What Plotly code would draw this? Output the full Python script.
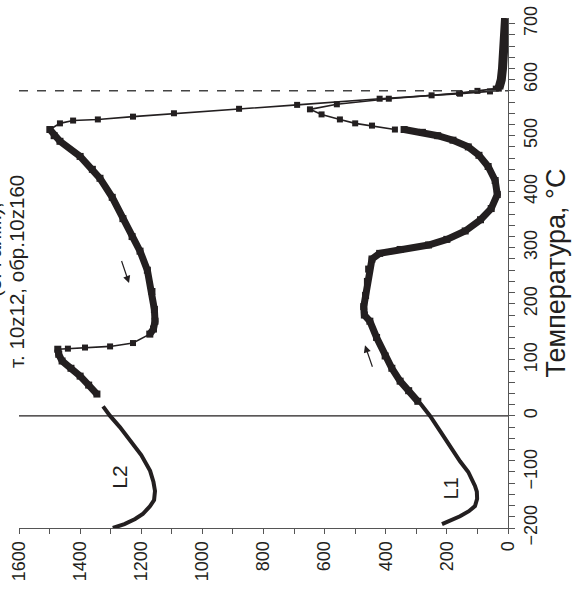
import plotly.graph_objects as go

# ---------------- data (value, temperature) ----------------
# L1 (heating) : low-temperature part
L1_low_T = [-193, -186, -179, -170, -161, -148, -135, -125, -100, -81, -55, -27, 0, 23]
L1_low_v = [216, 185, 157, 128, 108, 101, 102, 108, 130, 157, 190, 222, 255, 288]
# L1 dense part
L1_mid_T = [26, 45, 62, 85, 107, 140, 169, 180, 195, 215, 240, 262, 280, 290, 297, 305, 315, 330, 350, 370, 395, 420, 445, 465, 480, 492, 500, 506, 511]
L1_mid_v = [295, 325, 353, 380, 402, 430, 452, 470, 472, 466, 460, 456, 445, 420, 353, 260, 200, 140, 90, 55, 35, 42, 65, 95, 130, 180, 230, 280, 340]
# L1 sparse part (around the Hopkinson peak and drop)
L1_hi_T = [511, 518, 522, 529, 538, 547, 556, 566, 572, 576, 580, 584]
L1_hi_v = [370, 445, 500, 550, 610, 648, 560, 390, 250, 160, 100, 40]
# hot blob
HOT_T = [584, 590, 600, 620, 640, 660, 680, 700, 710]
HOT_v = [30, 25, 22, 18, 15, 12, 10, 8, 8]
# L2 (cooling) sparse drop
L2_hi_T = [584, 579, 575, 566, 555, 548, 540, 534, 529, 527, 522, 511]
L2_hi_v = [30, 59, 157, 420, 690, 880, 1093, 1227, 1342, 1423, 1466, 1499]
# L2 dense part
L2_mid_T = [511, 500, 490, 463, 440, 424, 390, 352, 320, 294, 260, 222, 190, 169, 155, 146]
L2_mid_v = [1499, 1485, 1466, 1400, 1360, 1335, 1295, 1260, 1230, 1204, 1180, 1165, 1157, 1155, 1160, 1172]
# L2 sparse jump
L2_jump_T = [146, 130, 124, 122, 120, 119]
L2_jump_v = [1172, 1227, 1302, 1384, 1440, 1473]
# L2 dense second part
L2_low1_T = [119, 110, 98, 85, 71, 55, 39]
L2_low1_v = [1473, 1470, 1459, 1430, 1400, 1372, 1345]
# L2 low temperature
L2_low_T = [17, 0, -20, -45, -70, -98, -118, -134, -150, -161, -175, -184, -193, -200]
L2_low_v = [1325, 1302, 1270, 1237, 1200, 1171, 1160, 1155, 1158, 1171, 1195, 1220, 1255, 1293]

CURIE = 580

INK = "#231f20"
FONT = "Liberation Sans, Arial, sans-serif"

fig = go.Figure()


def add(v, t, width, mode="lines", msize=0):
    fig.add_trace(go.Scatter(
        x=v, y=t, mode=mode,
        line=dict(color=INK, width=width),
        marker=dict(symbol="square", size=msize, color=INK),
        showlegend=False, hoverinfo="skip"))


add(L1_low_v, L1_low_T, 4)
add(L1_mid_v, L1_mid_T, 7, "lines+markers", 7)
add(L1_hi_v, L1_hi_T, 1.6, "lines+markers", 6)
add(HOT_v, HOT_T, 9)
add(L2_hi_v, L2_hi_T, 1.6, "lines+markers", 6)
add(L2_mid_v, L2_mid_T, 7, "lines+markers", 7)
add(L2_jump_v, L2_jump_T, 1.6, "lines+markers", 6)
add(L2_low1_v, L2_low1_T, 7, "lines+markers", 7)
add(L2_low_v, L2_low_T, 4)

# reference lines
fig.add_shape(type="line", xref="paper", yref="y", x0=0, x1=1, y0=0, y1=0,
              line=dict(color=INK, width=1.2))
fig.add_shape(type="line", xref="paper", yref="y", x0=0, x1=1, y0=CURIE, y1=CURIE,
              line=dict(color="#444", width=1.5, dash="dash"))

# labels
fig.add_annotation(x=1272, y=-110, text="L2", showarrow=False, textangle=-90,
                   xanchor="center", yanchor="middle",
                   font=dict(size=21, color=INK, family=FONT))
fig.add_annotation(x=187, y=-130, text="L1", showarrow=False, textangle=-90,
                   xanchor="center", yanchor="middle",
                   font=dict(size=20, color=INK, family=FONT))
fig.add_annotation(x=-0.005, y=0.503, xref="paper", yref="paper",
                   text="т. 10z12, обр.10z160", showarrow=False, textangle=-90,
                   xanchor="center", yanchor="middle",
                   font=dict(size=20.5, color=INK, family=FONT))
fig.add_annotation(x=-0.053, y=0.545, xref="paper", yref="paper",
                   text="(3. Гайм.),", showarrow=False, textangle=-90,
                   xanchor="center", yanchor="middle",
                   font=dict(size=20.5, color=INK, family=FONT))

# arrows
fig.add_annotation(x=1240, y=237, ax=1266, ay=279, xref="x", yref="y", axref="x", ayref="y",
                   text="", showarrow=True, arrowhead=2, arrowsize=1.2, arrowwidth=1.2, arrowcolor=INK)
fig.add_annotation(x=468, y=126, ax=442, ay=85, xref="x", yref="y", axref="x", ayref="y",
                   text="", showarrow=True, arrowhead=2, arrowsize=1.2, arrowwidth=1.2, arrowcolor=INK)

fig.update_layout(
    width=574, height=594, autosize=False,
    margin=dict(l=19, r=66, t=18, b=66, pad=0),
    plot_bgcolor="white", paper_bgcolor="white",
    font=dict(family=FONT, size=18, color=INK),
    xaxis=dict(range=[1600, 0], tickvals=list(range(0, 1601, 200)), automargin=False,
               ticks="outside", ticklen=5, tickcolor="#555", tickangle=-90,
               showline=True, linecolor="#555", linewidth=1, showgrid=False, zeroline=False,
               minor=dict(dtick=100, ticks="outside", ticklen=5, tickcolor="#555"),
               tickfont=dict(size=18, family=FONT, color=INK)),
    yaxis=dict(range=[-200, 710], side="right", tickvals=list(range(-200, 701, 100)), automargin=False,
               ticks="outside", ticklen=6, tickcolor="#555", tickangle=-90,
               showline=True, linecolor="#555", linewidth=1, showgrid=False, zeroline=False,
               minor=dict(dtick=20, ticks="outside", ticklen=6, tickcolor="#555"),
               tickfont=dict(size=18, family=FONT, color=INK),
               title=dict(text="Температура, °C", standoff=4,
                          font=dict(size=27, family=FONT, color=INK))),
)

fig.write_html("out.html")
